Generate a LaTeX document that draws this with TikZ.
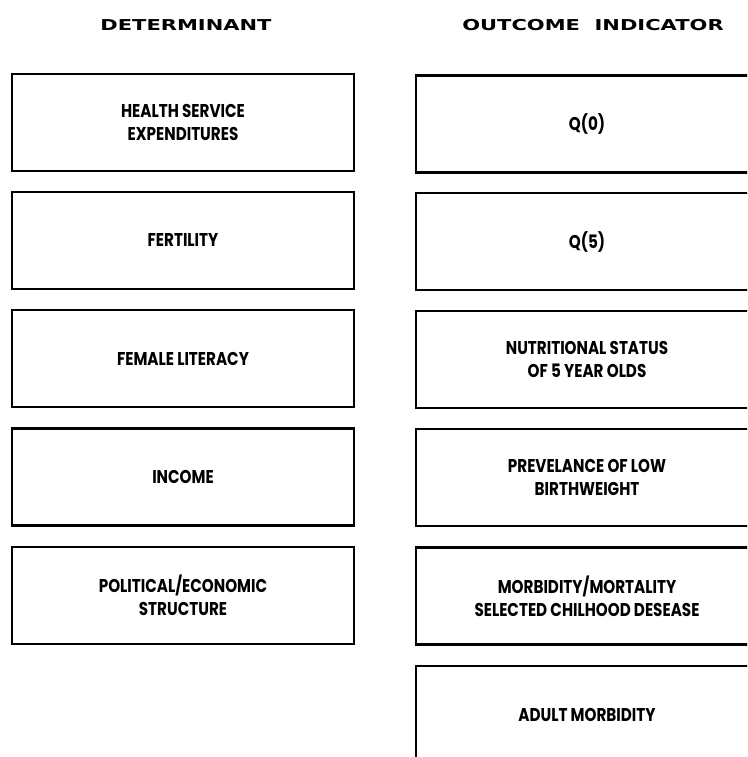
\documentclass[tikz,border=0pt]{standalone}
\usepackage{fontspec}
\setmainfont{Poppins}[FakeStretch=0.82]
\newfontfamily\titlefont{DejaVu Sans}[BoldFont={DejaVu Sans Bold}]
\begin{document}
\begin{tikzpicture}[x=1pt,y=-1pt,
  box/.style={draw=black, line width=2.6pt, rectangle, minimum width=342pt, minimum height=97pt,
    align=center, font=\bfseries\fontsize{18.5}{23}\selectfont, inner sep=0pt},
  title/.style={font=\titlefont\bfseries\fontsize{15}{17}\selectfont, inner sep=0pt}]
\useasboundingbox (0,0) rectangle (747,757);
\clip (0,0) rectangle (747,757);
\node[title] (t1) at (186,25) {\scalebox{1.4}[1]{DETERMINANT}};
\node[title] (t2) at (593,25) {\scalebox{1.4}[1]{OUTCOME\ \ INDICATOR}};
\node[box] (l1) at (183,122.5) {HEALTH SERVICE\\EXPENDITURES};
\node[box] (l2) at (183,240.5) {FERTILITY};
\node[box] (l3) at (183,358.5) {FEMALE LITERACY};
\node[box] (l4) at (183,477) {INCOME};
\node[box] (l5) at (183,595.5) {POLITICAL/ECONOMIC\\STRUCTURE};
\node[box] (r1) at (587,124) {Q(0)};
\node[box] (r2) at (587,241.5) {Q(5)};
\node[box] (r3) at (587,359.5) {NUTRITIONAL STATUS\\OF 5 YEAR OLDS};
\node[box] (r4) at (587,477.5) {PREVELANCE OF LOW\\BIRTHWEIGHT};
\node[box] (r5) at (587,596) {MORBIDITY/MORTALITY\\SELECTED CHILHOOD DESEASE};
\node[box] (r6) at (587,714.5) {ADULT MORBIDITY};
\end{tikzpicture}
\end{document}
